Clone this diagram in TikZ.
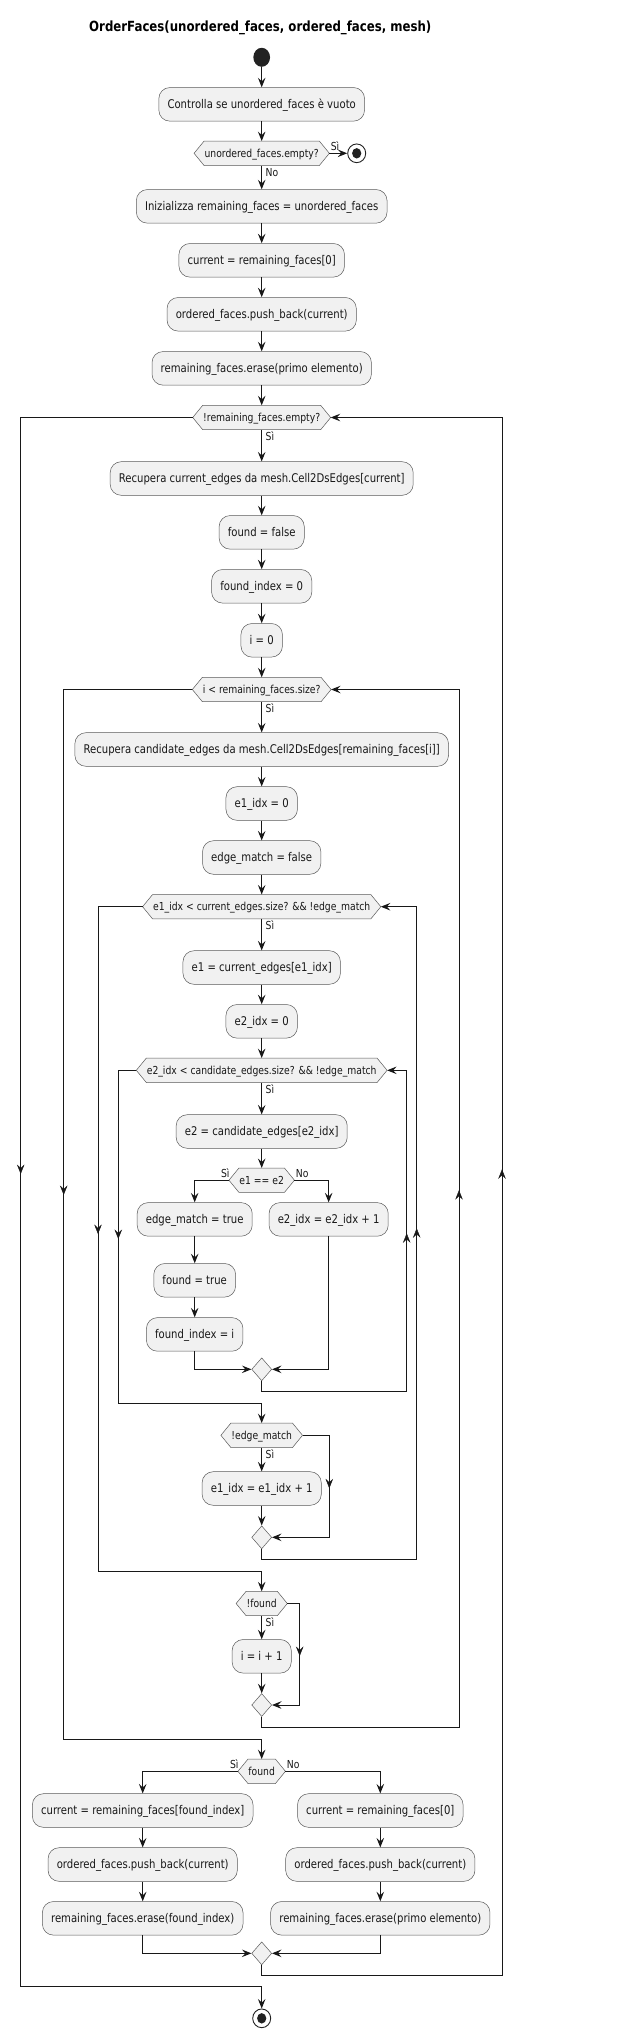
\documentclass[tikz,border=0pt]{standalone}
\usepackage{fontspec}
\setmainfont{DejaVu Sans}[FakeStretch=0.84]
\usetikzlibrary{arrows.meta,shapes.geometric,decorations.markings,calc}
\pgfdeclarelayer{back}
\pgfdeclarelayer{bg}
\pgfsetlayers{back,bg,main}
\definecolor{boxfill}{HTML}{F1F1F1}
\definecolor{lc}{HTML}{181818}
\definecolor{bord}{HTML}{5A5A5A}
\definecolor{darkc}{HTML}{222222}
\newcommand\hexnode[3]{%
  \node[hextext] (#1) at (#2) {#3};
  \coordinate (#1-l) at ([xshift=-10pt]#1.west);
  \coordinate (#1-r) at ([xshift=10pt]#1.east);
  \begin{pgfonlayer}{bg}
  \draw[hexline] (#1.north west) -- (#1.north east) -- (#1-r) -- (#1.south east) -- (#1.south west) -- (#1-l) -- cycle;
  \end{pgfonlayer}
}
\begin{document}
\begin{tikzpicture}[x=1pt,y=-1pt,
  actbox/.style={rectangle, rounded corners=11pt, fill=boxfill, draw=bord, line width=0.5pt, font=\fontsize{12}{14}\selectfont, inner xsep=8.7pt, inner ysep=0pt, minimum height=33.6pt, text height=11.2pt, text depth=2.6pt, text=lc},
  hextext/.style={rectangle, inner xsep=0.3pt, inner ysep=0pt, minimum height=24pt, font=\fontsize{11}{13}\selectfont, text height=10pt, text depth=2.2pt, text=lc},
  hexline/.style={fill=boxfill, draw=bord, line width=0.5pt, line join=miter},
  mergenode/.style={diamond, minimum width=20pt, minimum height=23pt, inner sep=0pt, fill=boxfill, draw=bord, line width=0.5pt},
  startnode/.style={ellipse, minimum width=16.7pt, minimum height=19pt, inner sep=0pt, fill=darkc},
  endnode/.style={ellipse, minimum width=18pt, minimum height=18.7pt, inner sep=0pt, fill=white, draw=darkc, line width=0.9pt, path picture={\fill[darkc] (path picture bounding box.center) ellipse [x radius=4.6pt, y radius=5.2pt];}},
  conn/.style={draw=lc, line width=1pt},
  flow/.style={conn, -{Stealth[length=9.5pt, width=7.5pt, inset=3.5pt]}},
  lbl/.style={font=\fontsize{11}{13}\selectfont, inner sep=0pt, text=lc},
  belowlbl/.style={lbl, pos=0, anchor=base west, xshift=3.5pt, yshift=-10.7pt},
  leftlbl/.style={lbl, pos=0, anchor=base east, xshift=1pt, yshift=2.5pt},
  rightlbl/.style={lbl, pos=0, anchor=base west, xshift=1pt, yshift=2.5pt},
  midarr/.style={color=lc, postaction={decorate}, decoration={markings, mark=at position #1 with {\arrow{Stealth[length=9.5pt, width=7.5pt, inset=3.5pt]}}}},
]
\useasboundingbox (0,0) rectangle (620,2039);
\begin{pgfonlayer}{back}
\fill[white] (0,0) rectangle (620,2039);
\end{pgfonlayer}

\node[font=\fontsize{14}{16}\selectfont\bfseries, text=black, inner sep=0pt] (title) at (260.3,28) {OrderFaces(unordered\_faces, ordered\_faces, mesh)};

\node[startnode] (start) at (261.7,57.3) {};
\node[actbox] (b1) at (261.7,104.35) {Controlla se unordered\_faces è vuoto};
\hexnode{h1}{261.7,153.3}{unordered\_faces.empty?}
\node[endnode] (end1) at (356.7,153.3) {};
\node[actbox] (b2) at (261.7,206.35) {Inizializza remaining\_faces = unordered\_faces};
\node[actbox] (b3) at (261.7,260.3) {current = remaining\_faces[0]};
\node[actbox] (b4) at (261.7,314.3) {ordered\_faces.push\_back(current)};
\node[actbox] (b5) at (261.7,368.35) {remaining\_faces.erase(primo elemento)};
\hexnode{h2}{261.7,417.5}{!remaining\_faces.empty?}
\node[actbox] (b6) at (261.7,478.5) {Recupera current\_edges da mesh.Cell2DsEdges[current]};
\node[actbox] (b7) at (261.7,532.35) {found = false};
\node[actbox] (b8) at (261.7,586.3) {found\_index = 0};
\node[actbox] (b9) at (261.7,640.3) {i = 0};
\hexnode{h3}{261.7,689.5}{i < remaining\_faces.size?}
\node[actbox] (b10) at (261.7,749.5) {Recupera candidate\_edges da mesh.Cell2DsEdges[remaining\_faces[i]]};
\node[actbox] (b11) at (261.7,803.5) {e1\_idx = 0};
\node[actbox] (b12) at (261.7,857.5) {edge\_match = false};
\hexnode{h4}{261.7,906.7}{e1\_idx < current\_edges.size? \&\& !edge\_match}
\node[actbox] (b13) at (261.7,967.5) {e1 = current\_edges[e1\_idx]};
\node[actbox] (b14) at (261.7,1021.3) {e2\_idx = 0};
\hexnode{h5}{261.7,1070.3}{e2\_idx < candidate\_edges.size? \&\& !edge\_match}
\node[actbox] (b15) at (261.7,1131.5) {e2 = candidate\_edges[e2\_idx]};
\hexnode{h6}{261.7,1180.2}{e1 == e2}
\node[actbox] (b16) at (194.7,1219.4) {edge\_match = true};
\node[actbox] (b17) at (328.65,1219.4) {e2\_idx = e2\_idx + 1};
\node[actbox] (b18) at (194.7,1280.3) {found = true};
\node[actbox] (b19) at (194.7,1334.4) {found\_index = i};
\node[mergenode] (m1) at (261.7,1369.3) {};
\hexnode{h7}{261.7,1435.3}{!edge\_match}
\node[actbox] (b20) at (261.7,1488.5) {e1\_idx = e1\_idx + 1};
\node[mergenode] (m2) at (261.7,1537.3) {};
\hexnode{h8}{261.7,1603.5}{!found}
\node[actbox] (b21) at (261.7,1656.3) {i = i + 1};
\node[mergenode] (m3) at (261.7,1705) {};
\hexnode{h9}{261.7,1771.3}{found}
\node[actbox] (b22) at (142.7,1810.5) {current = remaining\_faces[found\_index]};
\node[actbox] (b23) at (142.7,1864.5) {ordered\_faces.push\_back(current)};
\node[actbox] (b24) at (142.7,1918.3) {remaining\_faces.erase(found\_index)};
\node[actbox] (b25) at (380.3,1810.5) {current = remaining\_faces[0]};
\node[actbox] (b26) at (380.3,1864.5) {ordered\_faces.push\_back(current)};
\node[actbox] (b27) at (380.3,1918.3) {remaining\_faces.erase(primo elemento)};
\node[mergenode] (m4) at (261.7,1953.3) {};
\node[endnode] (end2) at (261.7,2018.3) {};

% loop corner coordinates
\coordinate (A1) at (406.7,1391.7);
\coordinate (A2) at (A1 |- h5-r);
\coordinate (A4) at (118.3,1403.3);
\coordinate (A3) at (A4 |- h5-l);
\coordinate (E1) at (329.3,1435.3);
\coordinate (E2) at (E1 |- m2);
\coordinate (B1) at (416.7,1559.3);
\coordinate (B2) at (B1 |- h4-r);
\coordinate (B4) at (98,1571.3);
\coordinate (B3) at (B4 |- h4-l);
\coordinate (F1) at (299.7,1603.5);
\coordinate (F2) at (F1 |- m3);
\coordinate (C1) at (459,1727.3);
\coordinate (C2) at (C1 |- h3-r);
\coordinate (C4) at (63.7,1739.3);
\coordinate (C3) at (C4 |- h3-l);
\coordinate (D1) at (502,1975);
\coordinate (D2) at (D1 |- h2-r);
\coordinate (D4) at (20.7,1986.7);
\coordinate (D3) at (D4 |- h2-l);

% connectors
\draw[flow] (start) -- (b1);
\draw[flow] (b1) -- (h1);
\draw[flow] (h1-r) -- node[rightlbl]{Sì} (end1);
\draw[flow] (h1) -- node[belowlbl]{No} (b2);
\draw[flow] (b2) -- (b3);
\draw[flow] (b3) -- (b4);
\draw[flow] (b4) -- (b5);
\draw[flow] (b5) -- (h2);
\draw[flow] (h2) -- node[belowlbl]{Sì} (b6);
\draw[flow] (b6) -- (b7);
\draw[flow] (b7) -- (b8);
\draw[flow] (b8) -- (b9);
\draw[flow] (b9) -- (h3);
\draw[flow] (h3) -- node[belowlbl]{Sì} (b10);
\draw[flow] (b10) -- (b11);
\draw[flow] (b11) -- (b12);
\draw[flow] (b12) -- (h4);
\draw[flow] (h4) -- node[belowlbl]{Sì} (b13);
\draw[flow] (b13) -- (b14);
\draw[flow] (b14) -- (h5);
\draw[flow] (h5) -- node[belowlbl]{Sì} (b15);
\draw[flow] (b15) -- (h6);
\draw[flow] (h6-l) -| node[leftlbl]{Sì} (b16);
\draw[flow] (h6-r) -| node[rightlbl]{No} (b17);
\draw[flow] (b16) -- (b18);
\draw[flow] (b18) -- (b19);
\draw[flow] (b19) |- (m1);
\draw[flow] (b17) |- (m1);
\draw[flow] (m1.south) |- (A1) -- (A2) -- (h5-r);
\path[midarr=0.4928] (A1) -- (A2);
\draw[flow] (h5-l) -- (A3) -- (A4) -| (h7);
\path[midarr=0.5066] (A3) -- (A4);
\draw[flow] (h7) -- node[belowlbl]{Sì} (b20);
\draw[flow] (h7-r) -- (E1) -- (E2) -- (m2);
\path[midarr=0.5196] (E1) -- (E2);
\draw[flow] (b20) -- (m2);
\draw[flow] (m2.south) |- (B1) -- (B2) -- (h4-r);
\path[midarr=0.5072] (B1) -- (B2);
\draw[flow] (h4-l) -- (B3) -- (B4) -| (h8);
\path[midarr=0.4925] (B3) -- (B4);
\draw[flow] (h8) -- node[belowlbl]{Sì} (b21);
\draw[flow] (h8-r) -- (F1) -- (F2) -- (m3);
\path[midarr=0.5172] (F1) -- (F2);
\draw[flow] (b21) -- (m3);
\draw[flow] (m3.south) |- (C1) -- (C2) -- (h3-r);
\path[midarr=0.5176] (C1) -- (C2);
\draw[flow] (h3-l) -- (C3) -- (C4) -| (h9);
\path[midarr=0.4815] (C3) -- (C4);
\draw[flow] (h9-l) -| node[leftlbl]{Sì} (b22);
\draw[flow] (h9-r) -| node[rightlbl]{No} (b25);
\draw[flow] (b22) -- (b23);
\draw[flow] (b23) -- (b24);
\draw[flow] (b25) -- (b26);
\draw[flow] (b26) -- (b27);
\draw[flow] (b24) |- (m4);
\draw[flow] (b27) |- (m4);
\draw[flow] (m4.south) |- (D1) -- (D2) -- (h2-r);
\path[midarr=0.5173] (D1) -- (D2);
\draw[flow] (h2-l) -- (D3) -- (D4) -| (end2);
\path[midarr=0.4821] (D3) -- (D4);
\end{tikzpicture}
\end{document}
